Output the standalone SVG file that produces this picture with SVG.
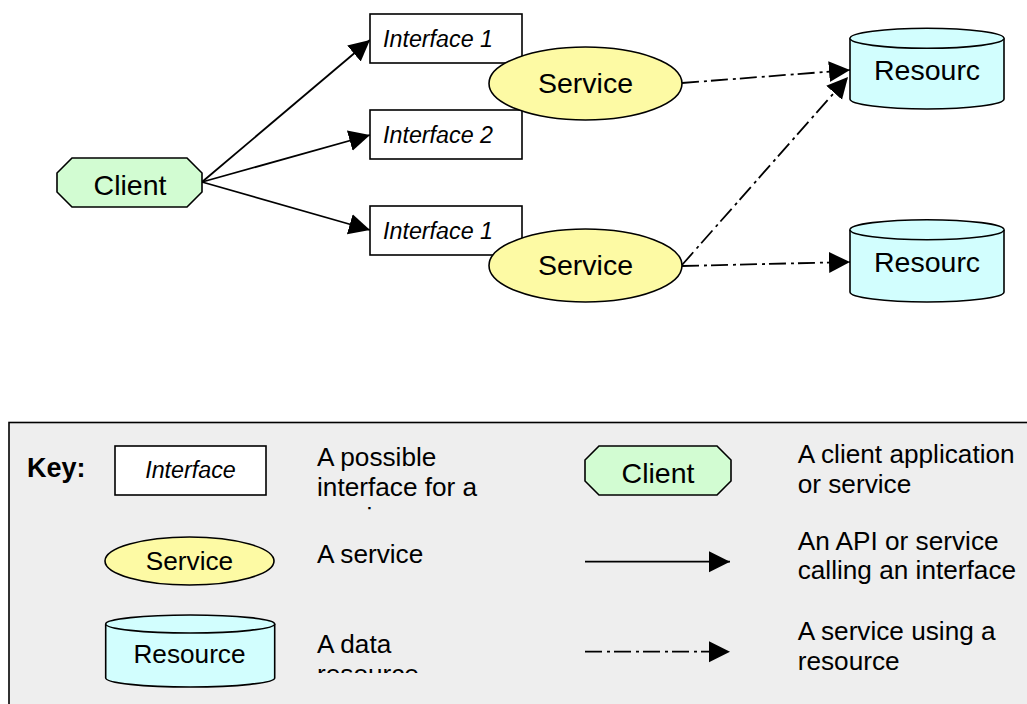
<svg xmlns="http://www.w3.org/2000/svg" width="1027" height="704" viewBox="0 0 1027 704">
<style>
text{font-family:"Liberation Sans",Arial,sans-serif;fill:#000}
.lbl{font-size:28.5px}
.ital{font-size:23.3px;font-style:italic}
.desc{font-size:26.2px}
.klbl{font-size:26.2px}
.iface{fill:#fff;stroke:#000;stroke-width:1.6}
.svc{fill:#fdfaa4;stroke:#000;stroke-width:1.6}
.res{fill:#d2fefe;stroke:#000;stroke-width:1.6}
.cli{fill:#d2fcd2;stroke:#000;stroke-width:1.6}
.call{stroke:#000;stroke-width:1.8;fill:none;marker-end:url(#ah)}
.use{stroke:#000;stroke-width:1.8;fill:none;stroke-dasharray:17 5 3 4;marker-end:url(#ah)}
</style>
<defs>
<marker id="ah" markerUnits="userSpaceOnUse" markerWidth="22" markerHeight="22" refX="21" refY="10.5" orient="auto">
<path d="M0,0 L21,10.5 L0,21 Z" fill="#000"/>
</marker>
<clipPath id="clipA"><rect x="300" y="430" width="250" height="81"/></clipPath>
<clipPath id="clipB"><rect x="300" y="610" width="250" height="63"/></clipPath>
</defs>
<rect width="1027" height="704" fill="#fff"/>

<g id="connectors">
<line class="call" x1="202" y1="182" x2="370" y2="40"/>
<line class="call" x1="202" y1="182" x2="370" y2="135"/>
<line class="call" x1="202" y1="182" x2="370" y2="230"/>
<line class="use" x1="682" y1="83" x2="850" y2="70"/>
<line class="use" x1="682" y1="265" x2="848" y2="77"/>
<line class="use" x1="682" y1="266" x2="850" y2="262"/>
</g>

<g id="client">
<polygon class="cli" points="72,158 187,158 202,173 202,192 187,207 72,207 57,192 57,173"/>
<text class="lbl" x="130" y="195" text-anchor="middle">Client</text>
</g>

<g id="interface1a">
<rect class="iface" x="370" y="14" width="152" height="49"/>
<text class="ital" x="383" y="47">Interface 1</text>
</g>
<g id="interface2">
<rect class="iface" x="370" y="110" width="152" height="49"/>
<text class="ital" x="383" y="143">Interface 2</text>
</g>
<g id="interface1b">
<rect class="iface" x="370" y="206" width="152" height="49"/>
<text class="ital" x="383" y="239">Interface 1</text>
</g>

<g id="service1">
<ellipse class="svc" cx="585.5" cy="83.5" rx="96.5" ry="36.5"/>
<text class="lbl" x="585.5" y="93.3" text-anchor="middle">Service</text>
</g>
<g id="service2">
<ellipse class="svc" cx="585.5" cy="265.5" rx="96.5" ry="36.5"/>
<text class="lbl" x="585.5" y="275" text-anchor="middle">Service</text>
</g>

<g id="resource1">
<path class="res" d="M850,38.3 L850,99 A77,10 0 0 0 1004,99 L1004,38.3 A77,10 0 0 0 850,38.3 Z"/>
<path class="res" d="M850,38.3 A77,10 0 0 0 1004,38.3" fill="none"/>
<text class="lbl" x="874" y="80">Resourc</text>
</g>
<g id="resource2">
<path class="res" d="M850,229.7 L850,292 A77,10 0 0 0 1004,292 L1004,229.7 A77,10 0 0 0 850,229.7 Z"/>
<path class="res" d="M850,229.7 A77,10 0 0 0 1004,229.7" fill="none"/>
<text class="lbl" x="874" y="271.7">Resourc</text>
</g>

<g id="key">
<rect x="9" y="422.5" width="1030" height="300" fill="#eeeeee" stroke="#000" stroke-width="1.6"/>
<text x="27" y="477" style="font-size:27px;font-weight:bold">Key:</text>

<g id="key-interface">
<rect class="iface" x="115" y="446" width="151" height="49"/>
<text class="ital" x="190.5" y="478" text-anchor="middle">Interface</text>
</g>
<g id="key-service">
<ellipse class="svc" cx="189.5" cy="561" rx="84.5" ry="24"/>
<text class="klbl" x="189.5" y="570" text-anchor="middle">Service</text>
</g>
<g id="key-resource">
<path class="res" d="M105.7,624 L105.7,678 A84.5,9 0 0 0 274.7,678 L274.7,624 A84.5,9 0 0 0 105.7,624 Z"/>
<path class="res" d="M105.7,624 A84.5,9 0 0 0 274.7,624" fill="none"/>
<text class="klbl" x="189.5" y="663" text-anchor="middle">Resource</text>
</g>
<g id="key-client">
<polygon class="cli" points="599,446 717,446 731,460 731,481 717,495 599,495 585,481 585,460"/>
<text class="lbl" x="658" y="482.7" text-anchor="middle">Client</text>
</g>
<g id="key-call">
<line class="call" x1="585" y1="561.7" x2="730" y2="561.7"/>
</g>
<g id="key-use">
<line class="use" x1="585" y1="651.7" x2="730" y2="651.7"/>
</g>

<g clip-path="url(#clipA)">
<text class="desc" x="317" y="466">A possible</text>
<text class="desc" x="317" y="496">interface for a</text>
<text class="desc" x="317" y="526">service</text>
</g>
<text class="desc" x="317" y="562.7">A service</text>
<g clip-path="url(#clipB)">
<text class="desc" x="317" y="653.3">A data</text>
<text class="desc" x="317" y="683.3">resource</text>
</g>
<text class="desc" x="797.7" y="463">A client application</text>
<text class="desc" x="797.7" y="492.7">or service</text>
<text class="desc" x="797.7" y="550">An API or service</text>
<text class="desc" x="797.7" y="579">calling an interface</text>
<text class="desc" x="797.7" y="640">A service using a</text>
<text class="desc" x="797.7" y="670">resource</text>
</g>
</svg>
